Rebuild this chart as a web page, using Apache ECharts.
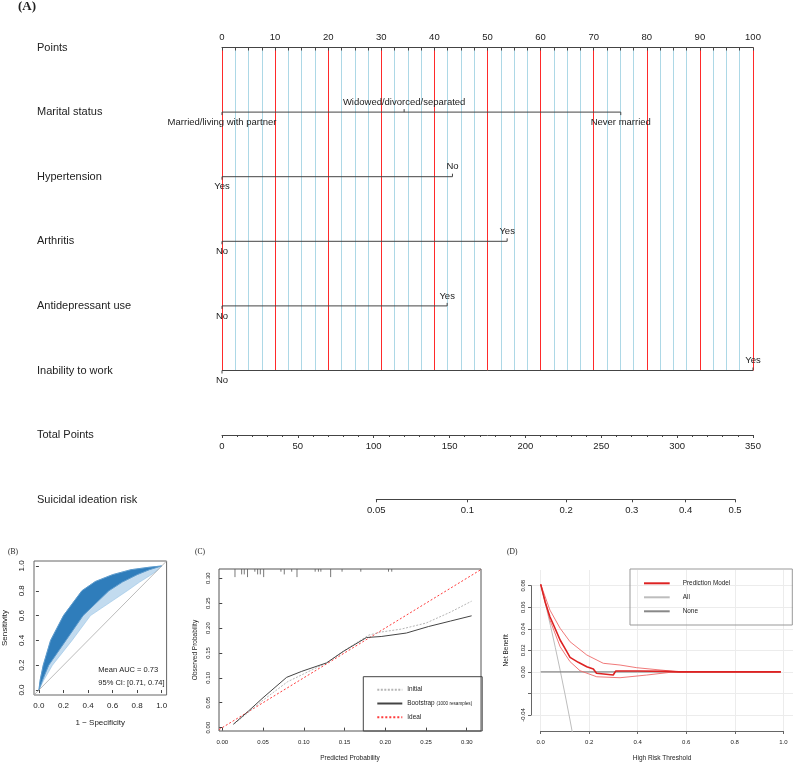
<!DOCTYPE html>
<html>
<head>
<meta charset="utf-8">
<script src="https://cdn.jsdelivr.net/npm/echarts@6/dist/echarts.min.js"></script>
<style>
html,body{margin:0;padding:0;background:#fff;}
#chart{width:794px;height:763px;}
</style>
</head>
<body>
<div id="chart"></div>
<script>
// ---- (A) nomogram ----
var rowNames = ['Points', 'Marital status', 'Hypertension', 'Arthritis', 'Antidepressant use', 'Inability to work'];
var levelNames = [
  ['Married/living with partner', 'Widowed/divorced/separated', 'Never married'],
  ['Yes', 'No'],
  ['No', 'Yes'],
  ['No', 'Yes'],
  ['No', 'Yes']
];
var levelPoints = [
  [0, 34.3, 75.1],
  [0, 43.4],
  [0, 53.7],
  [0, 42.4],
  [0, 100]
];
var riskTicks = [0.05, 0.1, 0.2, 0.3, 0.4, 0.5];

// ---- (B) ROC bootstrap band ----
var rocUpperX = [0, 0.01, 0.035, 0.095, 0.2, 0.35, 0.46, 0.6, 0.75, 0.9, 1];
var rocUpperY = [0, 0.08, 0.2, 0.4, 0.6, 0.8, 0.875, 0.93, 0.97, 0.99, 1];
var rocLowerX = [0, 0.03, 0.08, 0.22, 0.36, 0.57, 0.68, 0.8, 0.9, 1];
var rocLowerY = [0, 0.08, 0.2, 0.4, 0.6, 0.8, 0.87, 0.93, 0.97, 1];
var rocFaintX = [0, 0.04, 0.11, 0.27, 0.42, 0.72, 0.82, 0.9, 0.96, 1];
var rocFaintY = [0, 0.08, 0.2, 0.4, 0.6, 0.8, 0.87, 0.92, 0.96, 1];
var rocTicks = [0, 0.2, 0.4, 0.6, 0.8, 1];

// ---- (C) calibration ----
var calInitX = [0.015, 0.03, 0.05, 0.08, 0.1, 0.128, 0.15, 0.18, 0.195, 0.22, 0.25, 0.28, 0.306];
var calInitY = [0.008, 0.028, 0.055, 0.092, 0.108, 0.13, 0.155, 0.186, 0.192, 0.198, 0.21, 0.232, 0.254];
var calBootX = [0.0135, 0.032, 0.05, 0.079, 0.0975, 0.128, 0.1485, 0.177, 0.195, 0.226, 0.253, 0.28, 0.306];
var calBootY = [0.0066, 0.033, 0.06, 0.101, 0.113, 0.13, 0.153, 0.181, 0.183, 0.19, 0.203, 0.214, 0.2246];
var rugX = [0.0156, 0.0238, 0.027, 0.031, 0.040, 0.0434, 0.0467, 0.0508, 0.072, 0.0761, 0.0852, 0.0917, 0.114, 0.118, 0.121, 0.133, 0.147, 0.170, 0.204, 0.208];
var rugFreq = [3, 2, 2, 3, 1, 2, 2, 3, 1, 2, 1, 3, 1, 1, 1, 3, 1, 1, 1, 1];
var calTicks = [0, 0.05, 0.1, 0.15, 0.2, 0.25, 0.3];

// ---- (D) decision curve ----
var modelX = [0, 0.018, 0.038, 0.059, 0.08, 0.1, 0.121, 0.155, 0.19, 0.217, 0.23, 0.299, 0.309, 0.4, 0.52, 0.57, 0.99];
var modelY = [0.0813, 0.0652, 0.0512, 0.0405, 0.0296, 0.0219, 0.0135, 0.0089, 0.0048, 0.0027, -0.0013, -0.0029, 0.0008, 0.0008, 0.0005, 0, 0];
var modelHiX = [0, 0.038, 0.08, 0.121, 0.19, 0.258, 0.327, 0.396, 0.492, 0.574, 0.99];
var modelHiY = [0.0813, 0.0574, 0.0405, 0.028, 0.0157, 0.008, 0.0064, 0.0039, 0.0018, 0, 0];
var modelLoX = [0, 0.038, 0.08, 0.121, 0.162, 0.231, 0.327, 0.437, 0.533, 0.6, 0.99];
var modelLoY = [0.0813, 0.0482, 0.0234, 0.0095, 0.0011, -0.0045, -0.0054, -0.0029, -0.0004, 0, 0];
var allX = [0, 0.02, 0.04, 0.06, 0.08, 0.1, 0.12, 0.135];
var allY = [0.0815, 0.0627, 0.0432, 0.0229, 0.0017, -0.0205, -0.0437, -0.0618];
var noneX = [0, 0.99];
var noneY = [0, 0];

function zip(xs, ys) { return xs.map(function (x, i) { return [x, ys[i]]; }); }
function logit(p) { return Math.log(p / (1 - p)); }

var FONT = 'Liberation Sans, Arial, sans-serif';
var INK = '#222';
var AX = '#444';

// flatten nomogram levels for the custom series
var levelData = [];
levelNames.forEach(function (names, i) {
  names.forEach(function (nm, j) {
    levelData.push({ name: nm, pts: levelPoints[i][j], row: i + 1, above: j % 2 === 1 });
  });
});

var rowSeries = levelPoints.map(function (pts, i) {
  return {
    type: 'line', xAxisIndex: 0, yAxisIndex: 0, symbol: 'none', silent: true,
    lineStyle: { color: AX, width: 1 },
    data: [[Math.min.apply(null, pts), rowNames[i + 1]], [Math.max.apply(null, pts), rowNames[i + 1]]]
  };
});

var rocMin = -0.04, rocMax = 1.04;
var calXMin = -0.004, calXMax = 0.3175, calYMin = -0.0068, calYMax = 0.3186;

function smallAxis(o) {
  return Object.assign({
    type: 'value', axisLine: { show: false }, splitLine: { show: false },
    axisTick: { show: true, length: 3, lineStyle: { color: AX } },
    axisLabel: { fontSize: 6, color: INK, margin: 5 },
    nameLocation: 'middle', nameTextStyle: { fontSize: 6.5, color: INK }
  }, o);
}

function bandItem(lowX, lowY, fill, stroke) {
  return function (params, api) {
    var pts = [];
    for (var i = 0; i < rocUpperX.length; i++) pts.push(api.coord([rocUpperX[i], rocUpperY[i]]));
    for (var j = lowX.length - 1; j >= 0; j--) pts.push(api.coord([lowX[j], lowY[j]]));
    return { type: 'polygon', shape: { points: pts }, style: { fill: fill, stroke: stroke, lineWidth: 1 } };
  };
}

var option = {
  animation: false,
  textStyle: { fontFamily: FONT },
  grid: [
    { left: 222, top: 47.5, width: 531, height: 323 },
    { left: 222, top: 425, width: 531, height: 10 },
    { left: 376.3, top: 489.3, width: 358.7, height: 10 },
    { left: 33.3, top: 561, width: 133.3, height: 134, show: true, borderColor: '#666', borderWidth: 1, backgroundColor: 'transparent' },
    { left: 219, top: 569, width: 262, height: 162.7, show: true, borderColor: '#555', borderWidth: 1, backgroundColor: 'transparent' },
    { left: 531, top: 570, width: 262, height: 161.7 },
    { left: 531, top: 585.7, width: 262, height: 129.3 },
    { left: 540.7, top: 570, width: 242.6, height: 161.7 }
  ],
  xAxis: [
    { gridIndex: 0, type: 'value', position: 'top', min: 0, max: 100, interval: 10,
      axisLine: { show: true, lineStyle: { color: AX } },
      axisTick: { show: true, inside: true, length: 3, lineStyle: { color: AX } },
      minorTick: { show: true, splitNumber: 4, length: 3, lineStyle: { color: AX } },
      axisLabel: { fontSize: 9.5, color: INK, margin: 5 },
      splitLine: { show: true, lineStyle: { color: '#ff2a2a', width: 1 } },
      minorSplitLine: { show: true, lineStyle: { color: '#add8e6', width: 1 } } },
    { gridIndex: 1, type: 'value', min: 0, max: 350, interval: 50,
      axisLine: { show: true, lineStyle: { color: AX } },
      axisTick: { show: true, length: 3, lineStyle: { color: AX } },
      minorTick: { show: true, splitNumber: 5, length: 2, lineStyle: { color: AX } },
      axisLabel: { fontSize: 9.5, color: INK, margin: 6 },
      splitLine: { show: false } },
    { gridIndex: 2, type: 'value', min: logit(riskTicks[0]), max: logit(riskTicks[riskTicks.length - 1]),
      axisLine: { show: true, lineStyle: { color: AX } },
      axisTick: { show: true, length: 3, lineStyle: { color: AX }, customValues: riskTicks.map(logit) },
      axisLabel: { fontSize: 9.5, color: INK, margin: 6, customValues: riskTicks.map(logit),
        formatter: function (v) { return String(+(1 / (1 + Math.exp(-v))).toFixed(2)); } },
      splitLine: { show: false } },
    smallAxis({ gridIndex: 3, min: rocMin, max: rocMax,
      axisTick: { show: true, length: 3, lineStyle: { color: AX }, customValues: rocTicks },
      axisLabel: { fontSize: 8, color: INK, margin: 7, customValues: rocTicks, formatter: function (v) { return v.toFixed(1); } },
      name: '1 \u2212 Specificity', nameGap: 24, nameTextStyle: { fontSize: 8, color: INK } }),
    smallAxis({ gridIndex: 4, min: calXMin, max: calXMax,
      axisTick: { show: true, length: 3, lineStyle: { color: AX }, customValues: calTicks },
      axisLabel: { fontSize: 6, color: INK, margin: 8, customValues: calTicks, formatter: function (v) { return v.toFixed(2); } },
      name: 'Predicted Probability', nameGap: 24 }),
    { gridIndex: 5, type: 'value', min: -0.04, max: 1.04, show: false },
    { gridIndex: 6, type: 'value', min: 0, max: 1, show: false },
    smallAxis({ gridIndex: 7, min: 0, max: 1, interval: 0.2,
      axisLine: { show: true, lineStyle: { color: '#666' } },
      axisTick: { show: true, length: 3, lineStyle: { color: '#666' } },
      axisLabel: { fontSize: 6, color: INK, margin: 8, formatter: function (v) { return v.toFixed(1); } },
      splitLine: { show: true, lineStyle: { color: '#ececec', width: 1 } },
      name: 'High Risk Threshold', nameGap: 24 })
  ],
  yAxis: [
    { gridIndex: 0, type: 'category', data: rowNames, inverse: true, boundaryGap: false,
      axisLine: { show: false }, axisTick: { show: false }, splitLine: { show: false },
      axisLabel: { interval: 0, align: 'left', margin: 185, fontSize: 11, color: INK } },
    { gridIndex: 1, type: 'value', show: false },
    { gridIndex: 2, type: 'value', show: false },
    smallAxis({ gridIndex: 3, min: rocMin, max: rocMax,
      axisTick: { show: true, length: 3, lineStyle: { color: AX }, customValues: rocTicks },
      axisLabel: { fontSize: 8, color: INK, margin: 8, rotate: 90, customValues: rocTicks, formatter: function (v) { return v.toFixed(1); } },
      name: 'Sensitivity', nameGap: 25, nameTextStyle: { fontSize: 8, color: INK } }),
    smallAxis({ gridIndex: 4, min: calYMin, max: calYMax,
      axisTick: { show: true, length: 3, lineStyle: { color: AX }, customValues: calTicks },
      axisLabel: { fontSize: 6, color: INK, margin: 8, rotate: 90, customValues: calTicks, formatter: function (v) { return v.toFixed(2); } },
      name: 'Observed Probability', nameGap: 20 }),
    { gridIndex: 5, type: 'value', min: -0.0555, max: 0.0946, show: false },
    smallAxis({ gridIndex: 6, min: -0.04, max: 0.08, interval: 0.02,
      axisLine: { show: true, lineStyle: { color: '#666' } },
      axisTick: { show: true, length: 3, lineStyle: { color: '#666' } },
      axisLabel: { fontSize: 6, color: INK, margin: 5, rotate: 90,
        formatter: function (v) { return Math.abs(v + 0.02) < 1e-6 ? '' : v.toFixed(2); } },
      splitLine: { show: true, lineStyle: { color: '#ececec', width: 1 } },
      name: 'Net Benefit', nameGap: 21 }),
    { gridIndex: 7, type: 'value', min: 0, max: 1, show: false }
  ],
  legend: [
    { data: ['Initial', 'Bootstrap', 'Ideal'], orient: 'vertical', left: 363.3, top: 676.7,
      padding: [8, 10, 8.7, 13], itemGap: 3.8, itemWidth: 25, itemHeight: 8,
      borderColor: '#444', borderWidth: 1, selectedMode: false,
      itemStyle: { opacity: 0, borderWidth: 0 },
      textStyle: { fontSize: 6.4, color: INK, lineHeight: 10,
        rich: { s: { fontSize: 4.6, color: INK } } },
      formatter: function (n) { return n === 'Bootstrap' ? 'Bootstrap {s|(1000 resamples)}' : n; } },
    { data: ['Prediction Model', 'All', 'None'], orient: 'vertical', left: 630, top: 569,
      padding: [9.3, 62, 8.7, 13], itemGap: 4, itemWidth: 25.7, itemHeight: 8,
      borderColor: '#999', borderWidth: 1, selectedMode: false,
      itemStyle: { opacity: 0, borderWidth: 0 },
      textStyle: { fontSize: 6.4, color: INK, lineHeight: 10, padding: [0, 0, 0, 8] } }
  ],
  graphic: [
    { type: 'text', x: 18, y: 7, style: { text: '(A)', fontSize: 13, fontWeight: 'bold', fontFamily: 'Liberation Serif, serif', fill: INK, verticalAlign: 'middle' } },
    { type: 'text', x: 37, y: 435, style: { text: 'Total Points', fontSize: 11, fontFamily: FONT, fill: INK, verticalAlign: 'middle' } },
    { type: 'text', x: 37, y: 500, style: { text: 'Suicidal ideation risk', fontSize: 11, fontFamily: FONT, fill: INK, verticalAlign: 'middle' } },
    { type: 'text', x: 8, y: 552.5, style: { text: '(B)', fontSize: 7.5, fontFamily: 'Liberation Serif, serif', fill: INK, verticalAlign: 'middle' } },
    { type: 'text', x: 195, y: 552.5, style: { text: '(C)', fontSize: 7.5, fontFamily: 'Liberation Serif, serif', fill: INK, verticalAlign: 'middle' } },
    { type: 'text', x: 507, y: 552.5, style: { text: '(D)', fontSize: 7.5, fontFamily: 'Liberation Serif, serif', fill: INK, verticalAlign: 'middle' } },
    { type: 'text', x: 98.3, y: 670, style: { text: 'Mean AUC = 0.73', fontSize: 7.5, fontFamily: FONT, fill: INK, verticalAlign: 'middle' } },
    { type: 'text', x: 98.3, y: 683, style: { text: '95% CI: [0.71, 0.74]', fontSize: 7.5, fontFamily: FONT, fill: INK, verticalAlign: 'middle' } }
  ],
  series: rowSeries.concat([
    { type: 'custom', xAxisIndex: 0, yAxisIndex: 0, silent: true,
      data: levelData.map(function (d) { return [d.pts, d.row]; }),
      renderItem: function (params, api) {
        var d = levelData[params.dataIndex];
        var p = api.coord([d.pts, d.row]);
        var dir = d.above ? -1 : 1;
        return { type: 'group', children: [
          { type: 'line', shape: { x1: p[0], y1: p[1], x2: p[0], y2: p[1] + dir * 3 }, style: { stroke: AX, lineWidth: 1 } },
          { type: 'text', x: p[0], y: p[1] + dir * 5, style: { text: d.name, fontSize: 9.5, fontFamily: FONT, fill: INK,
            align: 'center', verticalAlign: d.above ? 'bottom' : 'top' } }
        ] };
      } },
    // (B)
    { type: 'custom', xAxisIndex: 3, yAxisIndex: 3, silent: true, data: [[0, 0]],
      renderItem: bandItem(rocFaintX, rocFaintY, 'rgba(120,175,220,0.45)', 'rgba(150,195,230,0.6)') },
    { type: 'custom', xAxisIndex: 3, yAxisIndex: 3, silent: true, data: [[0, 0]],
      renderItem: bandItem(rocLowerX, rocLowerY, '#2f7dbb', '#5d9acb') },
    { type: 'line', xAxisIndex: 3, yAxisIndex: 3, symbol: 'none', silent: true,
      lineStyle: { color: '#aaa', width: 0.8 }, data: [[rocMin, rocMin], [rocMax, rocMax]] },
    // (C)
    { name: 'Ideal', type: 'line', xAxisIndex: 4, yAxisIndex: 4, symbol: 'none',
      lineStyle: { color: '#ff3b3b', width: 1, type: [2, 2] }, itemStyle: { color: '#ff3b3b' },
      data: [[calXMin, calXMin], [calYMax, calYMax]] },
    { name: 'Initial', type: 'line', xAxisIndex: 4, yAxisIndex: 4, symbol: 'none',
      lineStyle: { color: '#b5b5b5', width: 1, type: [2, 1.5] }, itemStyle: { color: '#b5b5b5' },
      data: zip(calInitX, calInitY) },
    { name: 'Bootstrap', type: 'line', xAxisIndex: 4, yAxisIndex: 4, symbol: 'none',
      lineStyle: { color: '#444', width: 1 }, itemStyle: { color: '#444' },
      data: zip(calBootX, calBootY) },
    { type: 'custom', xAxisIndex: 4, yAxisIndex: 4, silent: true,
      data: zip(rugX, rugFreq),
      renderItem: function (params, api) {
        var p = api.coord([api.value(0), calYMax]);
        return { type: 'line', shape: { x1: p[0], y1: p[1], x2: p[0], y2: p[1] + 2.7 * api.value(1) }, style: { stroke: '#555', lineWidth: 0.8 } };
      } },
    // (D)
    { name: 'All', type: 'line', xAxisIndex: 5, yAxisIndex: 5, symbol: 'none',
      lineStyle: { color: '#bdbdbd', width: 1 }, itemStyle: { color: '#bdbdbd' }, data: zip(allX, allY) },
    { name: 'None', type: 'line', xAxisIndex: 5, yAxisIndex: 5, symbol: 'none',
      lineStyle: { color: '#888', width: 1.2 }, itemStyle: { color: '#888' }, data: zip(noneX, noneY) },
    { type: 'line', xAxisIndex: 5, yAxisIndex: 5, symbol: 'none', silent: true,
      lineStyle: { color: '#ee6a6a', width: 0.9 }, data: zip(modelHiX, modelHiY) },
    { type: 'line', xAxisIndex: 5, yAxisIndex: 5, symbol: 'none', silent: true,
      lineStyle: { color: '#ee6a6a', width: 0.9 }, data: zip(modelLoX, modelLoY) },
    { name: 'Prediction Model', type: 'line', xAxisIndex: 5, yAxisIndex: 5, symbol: 'none',
      lineStyle: { color: '#dd2222', width: 1.6 }, itemStyle: { color: '#dd2222' }, data: zip(modelX, modelY) }
  ])
};

var chart = echarts.init(document.getElementById('chart'));
chart.setOption(option);
</script>
</body>
</html>
